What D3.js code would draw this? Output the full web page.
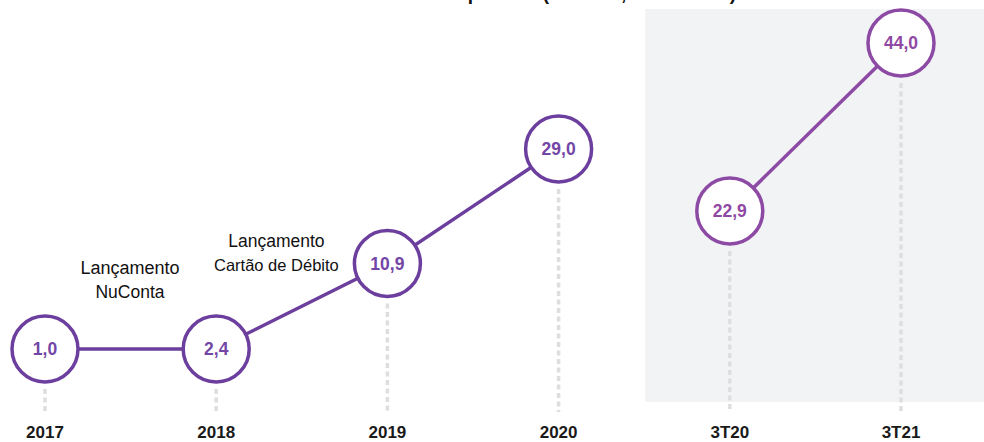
<!DOCTYPE html>
<html lang="pt">
<head>
  <meta charset="UTF-8">
  <title>Clientes NuConta</title>
  <script src="https://d3js.org/d3.v7.min.js"></script>
  <style>
    body { margin: 0; background: #fff; }
    svg { display: block; font-family: "Liberation Sans", Arial, sans-serif; }
  </style>
</head>
<body>
  <svg id="chart" width="984" height="442"></svg>

  <script>
    // Data
    const categories = ["2017", "2018", "2019", "2020", "3T20", "3T21"];
    const annualValues = [1.0, 2.4, 10.9, 29.0];    // 2017-2020
    const quarterValues = [22.9, 44.0];              // 3T20, 3T21
    const notes = [
      { at: "2017", lines: ["Lançamento", "NuConta"], sizes: [18, 17.5], dx: 85, y: 274 },
      { at: "2019", lines: ["Lançamento", "Cartão de Débito"], sizes: [17.5, 16.5], dx: -111, y: 247 }
    ];

    const width = 984;
    const height = 442;
    const r = 33;
    const axisY = 412;

    const colLeft = "#6c3f9e";
    const colRight = "#8d4aa5";

    const svg = d3.select("#chart");

    // x: one point scale across both panels
    const x = d3.scalePoint()
                .domain(categories)
                .range([45, 901]);

    // y: two separate scales (annual panel is compressed at the low end)
    const yLeft = d3.scalePow().exponent(0.6)
                    .domain([annualValues[1], d3.max(annualValues)])
                    .range([349, 149])
                    .clamp(true);

    const yRight = d3.scaleLinear()
                     .domain(d3.extent(quarterValues))
                     .range([211, 43]);

    const fmt = v => d3.format(".1f")(v).replace(".", ",");

    const left = annualValues.map((v, i) => ({ cat: categories[i], v, y: yLeft(v) }));
    const right = quarterValues.map((v, i) => ({ cat: categories[i + 4], v, y: yRight(v) }));

    // grey background for quarterly panel
    const split = (x("2020") + x("3T20")) / 2;
    svg.append("rect")
       .attr("x", split + 1)
       .attr("y", 9)
       .attr("width", width - split)
       .attr("height", 393)
       .attr("fill", "#f2f3f5");

    // title (cut off at the top of the picture)
    svg.append("text")
       .attr("x", 736)
       .attr("y", 0)
       .attr("text-anchor", "end")
       .style("font-size", "19px")
       .style("font-weight", "bold")
       .attr("fill", "#111")
       .text("Clientes NuConta ao final do período (milhões, de clientes)");

    function drawPanel(pts, color, textColor) {
      // dotted drop lines
      svg.append("g")
         .selectAll("line")
         .data(pts)
         .join("line")
         .attr("x1", d => x(d.cat))
         .attr("x2", d => x(d.cat))
         .attr("y1", d => d.y + r + 7)
         .attr("y2", axisY)
         .attr("stroke", "#dedede")
         .attr("stroke-width", 3.5)
         .attr("stroke-dasharray", "5,3.5");

      // connecting line
      svg.append("path")
         .datum(pts)
         .attr("fill", "none")
         .attr("stroke", color)
         .attr("stroke-width", 3.5)
         .attr("d", d3.line().x(d => x(d.cat)).y(d => d.y));

      const g = svg.append("g")
                   .selectAll("g")
                   .data(pts)
                   .join("g")
                   .attr("transform", d => `translate(${x(d.cat)},${d.y})`);

      g.append("circle")
       .attr("r", r)
       .attr("fill", "#fff")
       .attr("stroke", color)
       .attr("stroke-width", 3.5);

      g.append("text")
       .attr("text-anchor", "middle")
       .attr("dy", "0.36em")
       .style("font-size", "17.5px")
       .style("font-weight", "bold")
       .attr("fill", textColor)
       .text(d => fmt(d.v));
    }

    drawPanel(left, colLeft, "#7346a6");
    drawPanel(right, colRight, "#8f48a3");

    // x axis labels
    svg.append("g")
       .selectAll("text")
       .data(categories)
       .join("text")
       .attr("x", d => x(d))
       .attr("y", 438)
       .attr("text-anchor", "middle")
       .style("font-size", "17px")
       .style("font-weight", "bold")
       .attr("fill", "#1a1a1a")
       .text(d => d);

    // annotations
    notes.forEach(n => {
      const t = svg.append("text")
                   .attr("text-anchor", "middle")
                   .attr("fill", "#111");
      n.lines.forEach((line, i) => {
        t.append("tspan")
         .attr("x", x(n.at) + n.dx)
         .attr("y", n.y + i * 24)
         .style("font-size", n.sizes[i] + "px")
         .text(line);
      });
    });
  </script>
</body>
</html>
